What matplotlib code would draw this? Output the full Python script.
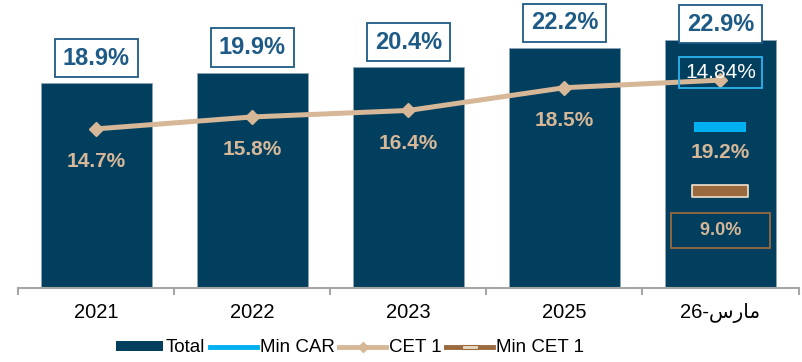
import numpy as np
import matplotlib.pyplot as plt
from matplotlib.path import Path
from matplotlib.lines import Line2D
from matplotlib.patches import Patch

plt.rcParams['font.family'] = ['Liberation Sans', 'DejaVu Sans']

# matplotlib does no Arabic shaping, so the last label uses presentation forms in display order
periods = ['2021', '2022', '2023', '2025', '26-\uFEB1\uFEAD\uFE8E\uFEE3']
total = [18.9, 19.9, 20.4, 22.2, 22.9]
cet1 = [14.7, 15.8, 16.4, 18.5, 19.2]
min_car = [14.84]
min_cet1 = [9.0]

navy = '#023F5F'
label_blue = '#1D5A86'
tan = '#D6B797'
cyan = '#00B0F0'
brown = '#9A6A3E'

# wide rectangle markers
def rect_marker(w):
    return Path([(-w, -0.5), (w, -0.5), (w, 0.5), (-w, 0.5), (-w, -0.5)],
                [Path.MOVETO, Path.LINETO, Path.LINETO, Path.LINETO, Path.CLOSEPOLY])

rect_car = rect_marker(2.6)
rect_cet = rect_marker(2.3)

fig = plt.figure(figsize=(8.03, 3.62), dpi=100)
ax = fig.add_axes([0.023, 0.2044, 0.9714, 0.7956])

x = np.arange(len(periods))
ax.bar(x, total, width=0.71, color=navy, edgecolor='#8FA6B8', linewidth=0.6, zorder=2)
ax.plot(x, cet1, color=tan, lw=3.6, marker='D', ms=7, zorder=3)
ax.plot([x[-1]], min_car, ls='none', marker=rect_car, ms=37, mfc=cyan, mec=cyan, mew=0, zorder=4)
ax.plot([x[-1]], min_cet1, ls='none', marker=rect_cet, ms=40, mfc=brown, mec='#EFE2CC', mew=1.2, zorder=4)

# total labels in boxes above the bars
for i, v in enumerate(total):
    off = 16 if i == len(total) - 1 else 25
    ax.annotate(f'{v:.1f}%', (x[i], v), xytext=(0, off), textcoords='offset pixels',
                ha='center', va='center', fontsize=17, fontweight='bold', color=label_blue,
                bbox=dict(boxstyle='square,pad=0.32', fc='white', ec=label_blue, lw=1.3), zorder=5)

# CET 1 labels under the line
for i, v in enumerate(cet1):
    off = -72 if i == len(cet1) - 1 else -33
    ax.annotate(f'{v:.1f}%', (x[i], v), xytext=(0, off), textcoords='offset pixels',
                ha='center', va='center', fontsize=15, fontweight='bold', color=tan, zorder=5)

ax.annotate(f'{min_car[0]:.2f}%', (x[-1], min_car[0]), xytext=(0, 55), textcoords='offset pixels',
            ha='center', va='center', fontsize=15, color='white', zorder=5,
            bbox=dict(boxstyle='square,pad=0.28', fc='none', ec='#2AB4EE', lw=1.3))
ax.annotate(f'    {min_cet1[0]:.1f}%    ', (x[-1], min_cet1[0]), xytext=(0, -40), textcoords='offset pixels',
            ha='center', va='center', fontsize=13, fontweight='bold', color=tan, zorder=5,
            bbox=dict(boxstyle='square,pad=0.5', fc='none', ec=brown, lw=1.3))

ax.set_xlim(-0.5, len(periods) - 0.5)
ax.set_ylim(0, 26.6)
ax.set_yticks([])
for s in ['top', 'right', 'left']:
    ax.spines[s].set_visible(False)
ax.spines['bottom'].set_color('#A6A6A6')
ax.spines['bottom'].set_linewidth(1.5)

ax.set_xticks(np.arange(-0.5, len(periods), 1))
ax.set_xticklabels([])
ax.tick_params(axis='x', which='major', length=5, width=1.5, color='#A6A6A6')
ax.set_xticks(x, minor=True)
ax.set_xticklabels(periods, minor=True, fontsize=14.5)
ax.tick_params(axis='x', which='minor', length=0, pad=10.5)

handles = [
    Patch(facecolor=navy),
    Line2D([], [], color=cyan, lw=3.5),
    Line2D([], [], color=tan, lw=3.5, marker='D', ms=5),
    Line2D([], [], color=brown, lw=3.5, marker=rect_cet, ms=11, mfc='#E8D8C0', mec=brown, mew=0.8),
]
fig.legend(handles, ['Total', 'Min CAR', 'CET 1', 'Min CET 1'], loc='center',
           bbox_to_anchor=(350 / 803, 14 / 362), ncol=4, frameon=False, fontsize=13.5,
           handlelength=2.5, handleheight=0.5, handletextpad=0.15, columnspacing=0.25)

fig.savefig('out.png', dpi=100)
